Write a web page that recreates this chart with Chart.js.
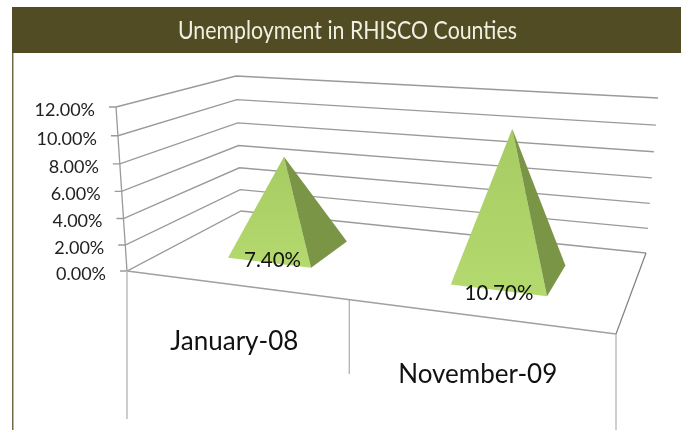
<!DOCTYPE html>
<html>
<head>
<meta charset="utf-8">
<title>Unemployment in RHISCO Counties</title>
<style>
  html, body { margin: 0; padding: 0; background: #fff; }
  canvas { display: block; }
</style>
<script src="https://cdn.jsdelivr.net/npm/chart.js@4"></script>
</head>
<body>
<canvas id="myChart" width="681" height="430"></canvas>
<script>
const categories = ['January-08', 'November-09'];
const unemployment = [7.4, 10.7];
const rateTicks = [0, 2, 4, 6, 8, 10, 12];
const chartTitle = 'Unemployment in RHISCO Counties';

const GRID = '#9a9a9a';
const FONT = 'Lato, Carlito, sans-serif';

// corners of the floor and of the ceiling: front-left, front-right, back-right, back-left
const floorCorners = [[127, 271], [616, 334], [646, 253], [241, 211]];
const ceilCorners = [[116, 107], [643, 146], [658, 98], [236, 76]];

// unit square to quad
function homography(q) {
  const [x0, y0] = q[0], [x1, y1] = q[1], [x2, y2] = q[2], [x3, y3] = q[3];
  const dx1 = x1 - x2, dx2 = x3 - x2, sx = x0 - x1 + x2 - x3;
  const dy1 = y1 - y2, dy2 = y3 - y2, sy = y0 - y1 + y2 - y3;
  const den = dx1 * dy2 - dx2 * dy1;
  const g = (sx * dy2 - dx2 * sy) / den;
  const h = (dx1 * sy - sx * dy1) / den;
  return {
    a: x1 - x0 + g * x1, b: x3 - x0 + h * x3, c: x0,
    d: y1 - y0 + g * y1, e: y3 - y0 + h * y3, f: y0, g, h
  };
}

function mapQuad(m, u, w) {
  const k = m.g * u + m.h * w + 1;
  return { x: (m.a * u + m.b * w + m.c) / k, y: (m.d * u + m.e * w + m.f) / k };
}

const floorMap = homography(floorCorners);
const ceilMap = homography(ceilCorners);

// u along the category axis, w is depth (0 front), t is height (0 floor, 1 ceiling)
function project(u, w, t) {
  const s = t / (1 + 0.062 * (1 - t));
  const p = mapQuad(floorMap, u, w);
  const q = mapQuad(ceilMap, u, w);
  return { x: p.x + (q.x - p.x) * s, y: p.y + (q.y - p.y) * s };
}

function line(ctx, pts, color, width) {
  ctx.beginPath();
  pts.forEach((p, i) => i ? ctx.lineTo(p.x, p.y) : ctx.moveTo(p.x, p.y));
  ctx.strokeStyle = color;
  ctx.lineWidth = width;
  ctx.stroke();
}

function poly(ctx, pts, fill) {
  ctx.beginPath();
  pts.forEach((p, i) => i ? ctx.lineTo(p.x, p.y) : ctx.moveTo(p.x, p.y));
  ctx.closePath();
  ctx.fillStyle = fill;
  ctx.fill();
}

const heightOf = (scale, px) => (scale.bottom - px) / scale.height;
const acrossOf = (scale, px) => (px - scale.left) / scale.width;

function drawFrame(chart) {
  const ctx = chart.ctx;
  ctx.fillStyle = '#fff';
  ctx.fillRect(0, 0, chart.width, chart.height);
  ctx.fillStyle = '#524c25';
  ctx.fillRect(12, 7, chart.width - 12, 46);
  ctx.fillStyle = '#716c48';
  ctx.fillRect(12, 53, 1.5, chart.height - 53);
}

function drawWalls(chart) {
  const ctx = chart.ctx;
  const yScale = chart.scales.y;
  const xScale = chart.scales.x;

  // gridlines along the two back walls, with a tick and a label at the front
  ctx.font = '18px ' + FONT;
  ctx.textAlign = 'right';
  ctx.textBaseline = 'middle';
  yScale.ticks.forEach(tick => {
    const t = heightOf(yScale, yScale.getPixelForValue(tick.value));
    const front = project(0, 0, t);
    line(ctx, [{ x: front.x - 7, y: front.y }, front, project(0, 1, t), project(1, 1, t)], GRID, 1.3);
    ctx.fillStyle = '#222';
    ctx.fillText(tick.label, front.x - 21, front.y + 3);
  });

  // floor outline
  line(ctx, [project(0, 0, 1), project(0, 0, 0)], GRID, 1.3);
  line(ctx, [project(0, 0, 0), project(1, 0, 0)], '#a0a0a0', 1.6);
  line(ctx, [project(1, 0, 0), project(1, 1, 0)], '#808080', 1.2);

  // category separators hanging below the front edge
  const drops = [148, 74, 100];
  drops.forEach((drop, i) => {
    const p = project(i / categories.length, 0, 0);
    const x = i === 1 ? p.x - 3 : p.x;
    line(ctx, [{ x, y: p.y }, { x, y: p.y + drop }], i === 1 ? '#9a9a9a' : '#bdbdbd', i === 1 ? 1 : 1.5);
  });

  // category names under the front edge
  ctx.font = '26px ' + FONT;
  ctx.textAlign = 'center';
  ctx.fillStyle = '#111';
  xScale.ticks.forEach((tick, i) => {
    const u = acrossOf(xScale, xScale.getPixelForTick(i));
    const p = project(u, 0, 0);
    ctx.fillText(categories[tick.value], p.x - 1, p.y + 55 + 5 * u);
  });
}

const DEPTH_NEAR = 0.3, DEPTH_FAR = 0.7;
const labelNudge = [[3, -2], [0, 3]];

function pyramidPoints(chart, bar) {
  const xScale = chart.scales.x, yScale = chart.scales.y;
  const left = acrossOf(xScale, bar.x - bar.width / 2);
  const right = acrossOf(xScale, bar.x + bar.width / 2);
  const t = heightOf(yScale, bar.y);
  return {
    apex: project((left + right) / 2, (DEPTH_NEAR + DEPTH_FAR) / 2, t),
    frontLeft: project(left, DEPTH_NEAR, 0),
    frontRight: project(right, DEPTH_NEAR, 0),
    backRight: project(right, DEPTH_FAR, 0)
  };
}

const pyramidPlugin = {
  id: 'pyramid',
  beforeDraw: drawFrame,
  beforeDatasetsDraw: drawWalls,
  // bars are replaced by pyramids of the same value and width
  beforeDatasetDraw(chart) {
    const ctx = chart.ctx;
    chart.getDatasetMeta(0).data.forEach(bar => {
      const p = pyramidPoints(chart, bar);
      const light = ctx.createLinearGradient(0, p.apex.y, 0, p.frontRight.y);
      light.addColorStop(0, '#a6cb62');
      light.addColorStop(1, '#b4d96e');
      poly(ctx, [p.frontLeft, p.apex, p.frontRight], light);
      poly(ctx, [p.frontRight, p.apex, p.backRight], '#7a9546');
    });
    return false;
  },
  afterDatasetsDraw(chart) {
    const ctx = chart.ctx;
    ctx.font = '20.5px ' + FONT;
    ctx.textAlign = 'center';
    ctx.textBaseline = 'middle';
    ctx.fillStyle = '#111';
    chart.getDatasetMeta(0).data.forEach((bar, i) => {
      const p = pyramidPoints(chart, bar);
      const x = (p.frontLeft.x + p.frontRight.x) / 2 + labelNudge[i][0];
      const y = (p.frontLeft.y + p.frontRight.y) / 2 + labelNudge[i][1];
      ctx.fillText(unemployment[i].toFixed(2) + '%', x, y);
    });
  }
};

new Chart(document.getElementById('myChart'), {
  type: 'bar',
  data: {
    labels: categories,
    datasets: [{
      label: 'Unemployment',
      data: unemployment,
      backgroundColor: '#aed168',
      categoryPercentage: 1,
      barPercentage: 0.39
    }]
  },
  options: {
    responsive: false,
    animation: false,
    // the side padding narrows the title box, which squeezes the title to a condensed width
    layout: { padding: { left: 178, right: 164 } },
    plugins: {
      legend: { display: false },
      tooltip: { enabled: false },
      title: {
        display: true,
        text: chartTitle,
        color: '#f0f0e2',
        font: { family: FONT, size: 25, weight: 'normal' },
        padding: { top: 16, bottom: 8 }
      }
    },
    scales: {
      x: { display: false },
      y: {
        display: false,
        min: 0,
        max: 12,
        afterBuildTicks: axis => { axis.ticks = rateTicks.map(value => ({ value })); },
        ticks: { callback: value => value.toFixed(2) + '%' }
      }
    }
  },
  plugins: [pyramidPlugin]
});
</script>
</body>
</html>
